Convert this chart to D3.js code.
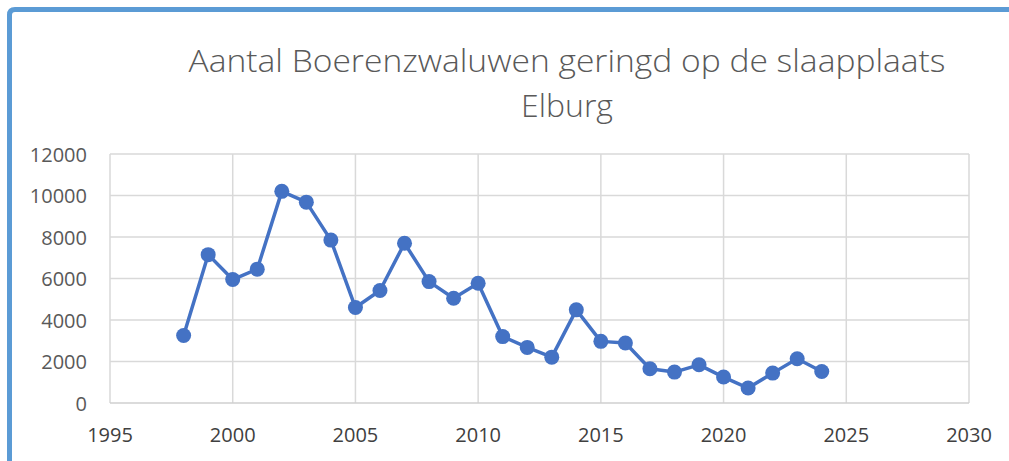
<!DOCTYPE html>
<html>
<head>
<meta charset="utf-8">
<script src="https://cdn.jsdelivr.net/npm/d3@7"></script>
<style>
  body { margin: 0; background: #fff; }
  text { font-family: "Open Sans", "Noto Sans", sans-serif; fill: #595959; }
</style>
</head>
<body>
<div id="canvas"></div>
<script>
"use strict"

/* Data */
let years = [1998, 1999, 2000, 2001, 2002, 2003, 2004, 2005, 2006, 2007, 2008, 2009, 2010,
    2011, 2012, 2013, 2014, 2015, 2016, 2017, 2018, 2019, 2020, 2021, 2022, 2023, 2024];
let counts = [3250, 7150, 5950, 6450, 10200, 9680, 7850, 4600, 5420, 7700, 5850, 5050, 5770,
    3200, 2680, 2210, 4490, 2970, 2890, 1650, 1490, 1840, 1250, 720, 1440, 2130, 1520];
let xTickValues = [1995, 2000, 2005, 2010, 2015, 2020, 2025, 2030];
let yTickValues = [0, 2000, 4000, 6000, 8000, 10000, 12000];
let titleLines = ["Aantal Boerenzwaluwen geringd op de slaapplaats", "Elburg"];

/* Drawing config */
let svgWidth = 1009;
let svgHeight = 461;
let plotLeft = 110, plotRight = 969, plotTop = 154, plotBottom = 403;

let svg = d3.select("#canvas")
    .append("svg")
    .attr("width", svgWidth)
    .attr("height", svgHeight);

// blue frame round the chart
svg.append("path")
    .attr("d", "M9.5,470 V15 Q9.5,9.5 15,9.5 H1015")
    .attr("fill", "none")
    .attr("stroke", "#5b9bd5")
    .attr("stroke-width", 5);

let xScale = d3.scaleLinear()
    .domain([1995, 2030])
    .range([plotLeft, plotRight]);

let yScale = d3.scaleLinear()
    .domain([0, 12000])
    .range([plotBottom, plotTop]);

// gridlines
svg.selectAll(".vgrid")
    .data(xTickValues)
    .join("line")
    .attr("class", "vgrid")
    .attr("x1", d => xScale(d))
    .attr("x2", d => xScale(d))
    .attr("y1", yScale(0))
    .attr("y2", yScale(12000))
    .attr("stroke", "#d9d9d9")
    .attr("stroke-width", 1.5);

svg.selectAll(".hgrid")
    .data(yTickValues)
    .join("line")
    .attr("class", "hgrid")
    .attr("x1", xScale(1995))
    .attr("x2", xScale(2030))
    .attr("y1", d => yScale(d))
    .attr("y2", d => yScale(d))
    .attr("stroke", d => d == 0 ? "#cfcfcf" : "#d9d9d9")
    .attr("stroke-width", 1.5);

// tick labels
svg.selectAll(".ylab")
    .data(yTickValues)
    .join("text")
    .attr("class", "ylab")
    .attr("x", 87)
    .attr("y", d => yScale(d))
    .attr("text-anchor", "end")
    .attr("dominant-baseline", "central")
    .style("font-size", "20px")
    .text(d => d);

svg.selectAll(".xlab")
    .data(xTickValues)
    .join("text")
    .attr("class", "xlab")
    .attr("x", d => xScale(d))
    .attr("y", 442)
    .attr("text-anchor", "middle")
    .style("font-size", "20px")
    .style("fill", "#404040")
    .text(d => d);

// title
svg.append("text")
    .attr("x", 567)
    .attr("y", 72)
    .attr("text-anchor", "middle")
    .attr("textLength", 757)
    .attr("lengthAdjust", "spacingAndGlyphs")
    .style("font-size", "32px")
    .style("font-weight", 300)
    .text(titleLines[0]);

svg.append("text")
    .attr("x", 567)
    .attr("y", 117)
    .attr("text-anchor", "middle")
    .style("font-size", "32px")
    .style("font-weight", 300)
    .text(titleLines[1]);

// line and markers
let points = years.map((y, i) => ({ year: y, count: counts[i] }));

let line = d3.line()
    .x(d => xScale(d.year))
    .y(d => yScale(d.count));

svg.append("path")
    .datum(points)
    .attr("d", line)
    .attr("fill", "none")
    .attr("stroke", "#4472c4")
    .attr("stroke-width", 3.5)
    .attr("stroke-linejoin", "round");

svg.selectAll(".dot")
    .data(points)
    .join("circle")
    .attr("class", "dot")
    .attr("cx", d => xScale(d.year))
    .attr("cy", d => yScale(d.count))
    .attr("r", 7.5)
    .attr("fill", "#4472c4");
</script>
</body>
</html>
